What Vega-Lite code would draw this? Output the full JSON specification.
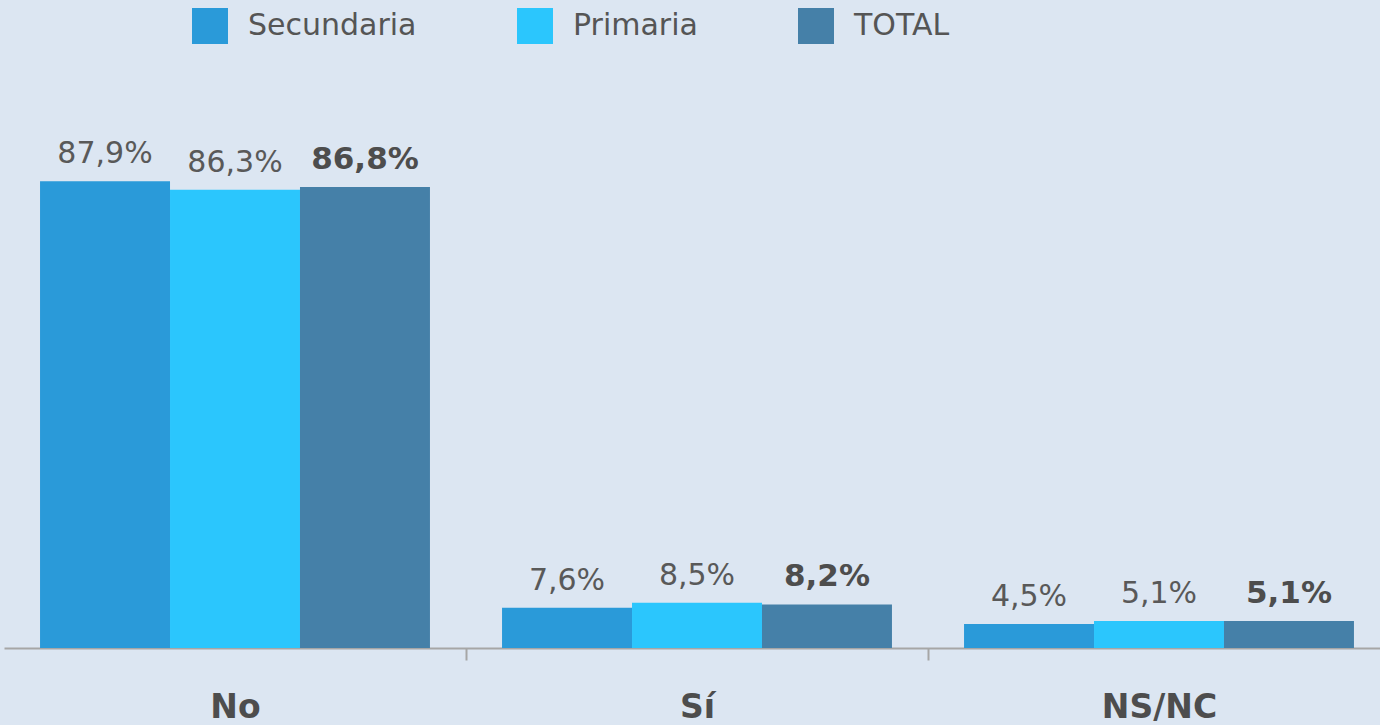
{
  "$schema": "https://vega.github.io/schema/vega-lite/v6.json",
  "width": 1376,
  "height": 531,
  "autosize": {"type": "none"},
  "padding": {"left": 4, "top": 117, "right": 0, "bottom": 77},
  "background": "#dce6f2",
  "config": {
    "view": {"stroke": null},
    "locale": {"number": {"decimal": ",", "thousands": ".", "grouping": [3], "currency": ["", " €"]}},
    "font": "DejaVu Sans"
  },
  "data": {
    "values": [
      {"cat": "No", "serie": "Secundaria", "v": 0.879},
      {"cat": "No", "serie": "Primaria", "v": 0.863},
      {"cat": "No", "serie": "TOTAL", "v": 0.868},
      {"cat": "Sí", "serie": "Secundaria", "v": 0.076},
      {"cat": "Sí", "serie": "Primaria", "v": 0.085},
      {"cat": "Sí", "serie": "TOTAL", "v": 0.082},
      {"cat": "NS/NC", "serie": "Secundaria", "v": 0.045},
      {"cat": "NS/NC", "serie": "Primaria", "v": 0.051},
      {"cat": "NS/NC", "serie": "TOTAL", "v": 0.051}
    ]
  },
  "encoding": {
    "x": {
      "field": "cat", "type": "nominal", "sort": ["No", "Sí", "NS/NC"],
      "scale": {"range": [0, 1386], "paddingInner": 0.156, "paddingOuter": 0.078},
      "axis": {
        "title": null, "labelAngle": 0, "domainColor": "#a6a6a6", "domainWidth": 2,
        "tickColor": "#a6a6a6", "tickWidth": 2, "tickSize": 12, "tickOffset": 231,
        "labelOffset": -231,
        "labelFont": "DejaVu Sans", "labelFontSize": 33, "labelFontWeight": "bold",
        "labelColor": "#4d4d4d", "labelPadding": 31
      }
    },
    "xOffset": {"field": "serie", "type": "nominal", "sort": ["Secundaria", "Primaria", "TOTAL"], "scale": {"paddingInner": 0, "paddingOuter": 0}},
    "y": {"field": "v", "type": "quantitative", "scale": {"domain": [0, 1]}, "axis": null}
  },
  "layer": [
    {
      "mark": {"type": "bar"},
      "encoding": {
        "color": {
          "field": "serie", "type": "nominal", "sort": ["Secundaria", "Primaria", "TOTAL"],
          "scale": {"domain": ["Secundaria", "Primaria", "TOTAL"], "range": ["#2a9ad9", "#2bc6fd", "#4580a8"]},
          "legend": {
            "title": null, "orient": "none", "direction": "horizontal",
            "legendX": 188, "legendY": -109,
            "symbolType": "square", "symbolSize": 1296, "symbolStrokeWidth": 0,
            "labelFont": "DejaVu Sans", "labelFontSize": 30, "labelColor": "#555555",
            "labelOffset": 20, "columnPadding": 100, "symbolOpacity": 1, "labelLimit": 400
          }
        }
      }
    },
    {
      "transform": [{"filter": "datum.serie !== 'TOTAL'"}],
      "mark": {"type": "text", "baseline": "alphabetic", "dy": -18, "fontSize": 30, "color": "#595959", "font": "DejaVu Sans"},
      "encoding": {"text": {"field": "v", "type": "quantitative", "format": ".1%"}}
    },
    {
      "transform": [{"filter": "datum.serie === 'TOTAL'"}],
      "mark": {"type": "text", "baseline": "alphabetic", "dy": -18, "fontSize": 31, "fontWeight": "bold", "color": "#4d4d4d", "font": "DejaVu Sans"},
      "encoding": {"text": {"field": "v", "type": "quantitative", "format": ".1%"}}
    }
  ]
}
